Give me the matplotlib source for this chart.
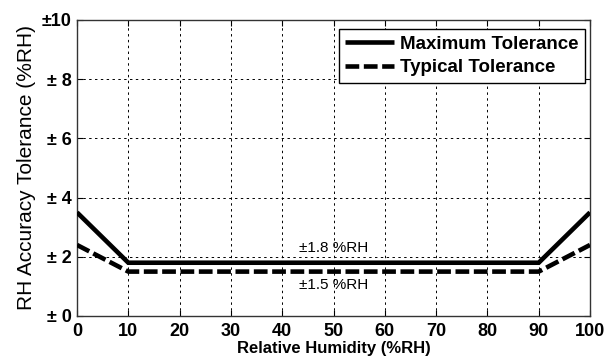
import matplotlib
matplotlib.use("Agg")
import matplotlib.pyplot as plt

plt.rcParams['font.family'] = ['Liberation Sans', 'DejaVu Sans']

rh = [0, 10, 90, 100]
max_tol = [3.5, 1.8, 1.8, 3.5]
typ_tol = [2.4, 1.5, 1.5, 2.4]
xticks = [0, 10, 20, 30, 40, 50, 60, 70, 80, 90, 100]
yticks = [0, 2, 4, 6, 8, 10]
ytick_labels = ['± 0', '± 2', '± 4', '± 6', '± 8', '±10']

fig = plt.figure(figsize=(6.05, 3.56), dpi=100)
ax = fig.add_axes([77/605, 1 - 316/356, (590-77)/605, (316-20)/356])

ax.plot(rh, max_tol, color='black', lw=3.3, solid_capstyle='butt',
        solid_joinstyle='miter', label='Maximum Tolerance', zorder=3)
ax.plot(rh, typ_tol, color='black', lw=3.3, ls=(0, (3.0, 1.0)),
        dash_capstyle='butt', label='Typical Tolerance', zorder=3)

ax.set_xlim(0, 100)
ax.set_ylim(0, 10)
ax.set_xticks(xticks)
ax.set_xticklabels([str(v) for v in xticks], fontsize=13, fontweight='bold')
ax.set_yticks(yticks)
ax.set_yticklabels(ytick_labels, fontsize=13, fontweight='bold')
ax.tick_params(direction='in', length=4, width=0.8, top=True, right=True)
ax.tick_params(axis='x', pad=5)
ax.tick_params(axis='y', pad=4)
ax.grid(True, color='black', ls=(0, (2.5, 3.5)), lw=0.7)
for s in ax.spines.values():
    s.set_linewidth(1.0)
    s.set_color('#333333')

ax.set_ylabel('RH Accuracy Tolerance (%RH)', fontsize=15, labelpad=4)
ax.set_xlabel('Relative Humidity (%RH)', fontsize=12, fontweight='bold', labelpad=0.5)

ax.text(50, 2.05, '±1.8 %RH', fontsize=11, ha='center', va='bottom')
ax.text(50, 1.06, '±1.5 %RH', fontsize=11, ha='center', va='center')

leg = ax.legend(loc='upper right', prop={'weight': 'bold', 'size': 13.5},
                frameon=True, fancybox=False, edgecolor='black', handlelength=2.6,
                borderaxespad=0.0, handletextpad=0.3, labelspacing=0.35,
                borderpad=0.35, bbox_to_anchor=(0.99, 0.97))
leg.get_frame().set_linewidth(1.0)
leg.get_frame().set_alpha(1.0)

fig.savefig('out.png', dpi=100)
